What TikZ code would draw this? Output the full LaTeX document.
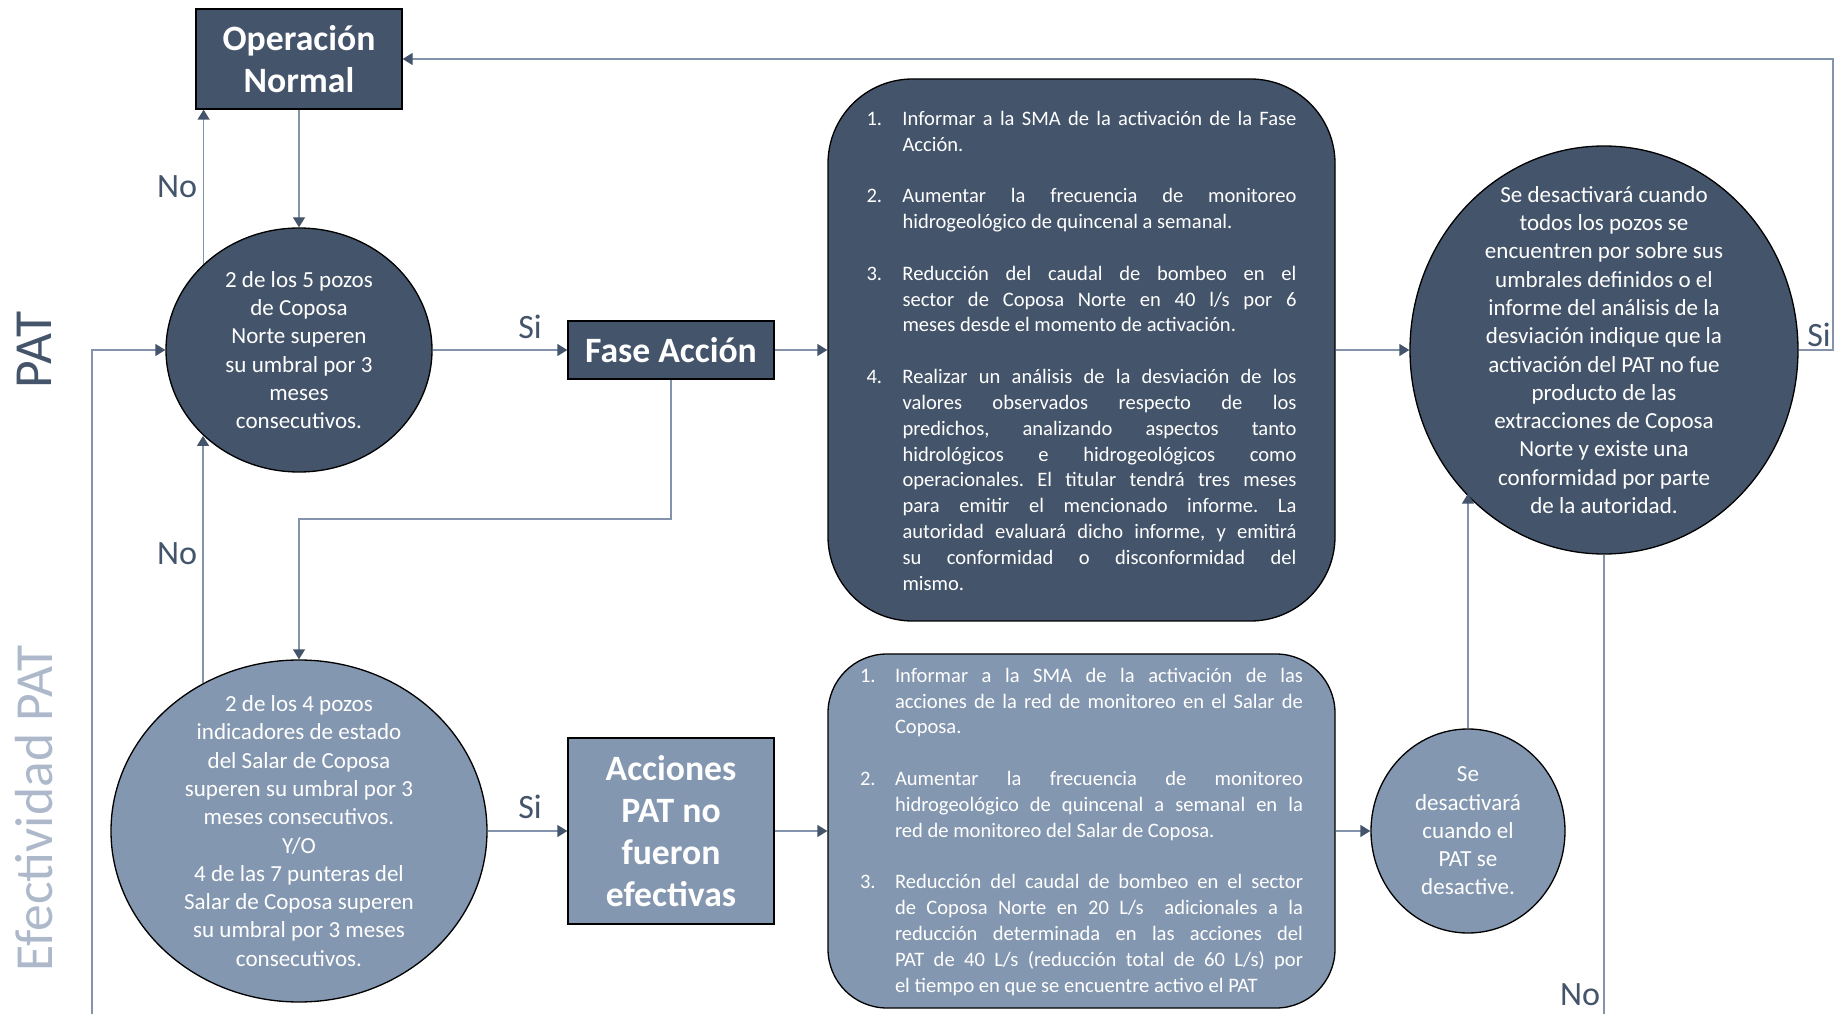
\documentclass[tikz,border=0pt]{standalone}
\usepackage{fontspec}
\setmainfont{Carlito}
\usetikzlibrary{arrows.meta,shapes.geometric}

\definecolor{pizarra}{HTML}{44546A}
\definecolor{pizarraclara}{HTML}{8497B0}
\definecolor{rotulo}{HTML}{ADB9CA}
\definecolor{conector}{HTML}{8393AB}

\hyphenpenalty=10000
\exhyphenpenalty=10000
\tolerance=10000
\frenchspacing

% numbered step with hanging indent
\newcommand{\paso}[3][0.72cm]{\par\noindent\hangindent=#1\hangafter=1\makebox[#1][l]{#2}#3\par}

\tikzset{
	cajaoscura/.style={rectangle, draw=black, line width=0.75pt, fill=pizarra, inner sep=0pt, text=white, align=center, font=\fontsize{20.3}{23.9}\selectfont\bfseries},
	cajaclara/.style={cajaoscura, fill=pizarraclara},
	elipseoscura/.style={ellipse, draw=black, line width=0.75pt, fill=pizarra, inner sep=0pt},
	elipseclara/.style={elipseoscura, fill=pizarraclara},
	textocirculo/.style={inner sep=0pt, text=white, align=center, font=\fontsize{13.1}{16.1}\selectfont},
	listaoscura/.style={rectangle, rounded corners=1.69cm, draw=black, line width=0.75pt, fill=pizarra, inner sep=0pt, text=white, align=justify, font=\fontsize{11.7}{14.7}\selectfont},
	listaclara/.style={listaoscura, rounded corners=1.18cm, fill=pizarraclara},
	etiqueta/.style={inner sep=0pt, text=pizarra, font=\fontsize{19.4}{23}\selectfont},
	rotuloizq/.style={inner sep=0pt, rotate=90, font=\fontsize{30.5}{36}\selectfont},
	linea/.style={draw=conector, line width=0.75pt},
	flecha/.style={linea, -{Triangle[length=0.2cm, width=0.24cm, color=pizarra]}}
}

\begin{document}
\begin{tikzpicture}
	\useasboundingbox (0,0) rectangle (36.82,20.28);

	%Rotulos de la izquierda
	\node[rotuloizq, text=pizarra] (rotPAT) at (0.68,13.28) {PAT};
	\node[rotuloizq, text=rotulo] (rotEfec) at (0.68,4.12) {Efectividad PAT};

	%Fila PAT
	\node[cajaoscura, minimum width=4.12cm, minimum height=2cm] (opn) at (5.98,19.10) {Operación\\Normal};

	\node[elipseoscura, minimum width=5.32cm, minimum height=4.88cm] (c1) at (5.98,13.28) {};
	\node[textocirculo] (c1txt) at (c1) {2 de los 5 pozos\\de Coposa\\Norte superen\\su umbral por 3\\meses\\consecutivos.};

	\node[cajaoscura, minimum width=4.12cm, minimum height=1.16cm] (fase) at (13.42,13.28) {Fase Acción};

	\node[listaoscura, minimum width=10.14cm, minimum height=10.84cm, text width=8.6cm] (b1) at (21.63,13.28) {%
		\paso{1.}{Informar a la SMA de la activación de la Fase\linebreak Acción.}
		\vspace{\baselineskip}
		\paso{2.}{Aumentar la frecuencia de monitoreo\linebreak hidrogeológico de quincenal a semanal.}
		\vspace{\baselineskip}
		\paso{3.}{Reducción del caudal de bombeo en el\linebreak sector de Coposa Norte en 40 l/s por 6\linebreak meses desde el momento de activación.}
		\vspace{\baselineskip}
		\paso{4.}{Realizar un análisis de la desviación de los\linebreak valores observados respecto de los\linebreak predichos, analizando aspectos tanto\linebreak hidrológicos e hidrogeológicos como\linebreak operacionales. El titular tendrá tres meses\linebreak para emitir el mencionado informe. La\linebreak autoridad evaluará dicho informe, y emitirá\linebreak su conformidad o disconformidad del\linebreak mismo.}
		\vspace*{0.2cm}};

	\node[elipseoscura, minimum width=7.76cm, minimum height=8.16cm] (c3) at (32.08,13.28) {};
	\node[textocirculo] (c3txt) at (c3) {Se desactivará cuando\\todos los pozos se\\encuentren por sobre sus\\umbrales definidos o el\\informe del análisis de la\\desviación indique que la\\activación del PAT no fue\\producto de las\\extracciones de Coposa\\Norte y existe una\\conformidad por parte\\de la autoridad.};

	%Fila Efectividad PAT
	\node[elipseclara, minimum width=7.52cm, minimum height=6.84cm] (c2) at (5.98,3.66) {};
	\node[textocirculo] (c2txt) at (c2) {2 de los 4 pozos\\indicadores de estado\\del Salar de Coposa\\superen su umbral por 3\\meses consecutivos.\\Y/O\\4 de las 7 punteras del\\Salar de Coposa superen\\su umbral por 3 meses\\consecutivos.};

	\node[cajaclara, minimum width=4.12cm, minimum height=3.72cm] (acc) at (13.42,3.66) {Acciones\\PAT no\\fueron\\efectivas};

	\node[listaclara, minimum width=10.14cm, minimum height=7.08cm, text width=8.86cm] (b2) at (21.63,3.66) {%
		\paso[0.70cm]{1.}{Informar a la SMA de la activación de las\linebreak acciones de la red de monitoreo en el Salar de\linebreak Coposa.}
		\vspace{\baselineskip}
		\paso[0.70cm]{2.}{Aumentar la frecuencia de monitoreo\linebreak hidrogeológico de quincenal a semanal en la\linebreak red de monitoreo del Salar de Coposa.}
		\vspace{\baselineskip}
		\paso[0.70cm]{3.}{Reducción del caudal de bombeo en el sector\linebreak de Coposa Norte en 20 L/s\ \ adicionales a la\linebreak reducción determinada en las acciones del\linebreak PAT de 40 L/s (reducción total de 60 L/s) por\linebreak el tiempo en que se encuentre activo el PAT}
		\vspace*{0.2cm}};

	\node[elipseclara, minimum width=3.88cm, minimum height=4.08cm] (c4) at (29.36,3.66) {};
	\node[textocirculo] (c4txt) at (c4) {Se\\desactivará\\cuando el\\PAT se\\desactive.};

	%Puntos de paso
	\coordinate (codo) at (13.42,9.90);
	\coordinate (derecha) at (36.66,19.10);
	\coordinate (abajoIzq) at (1.84,0);
	\coordinate (abajoDer) at (32.08,0);

	%Conectores
	\draw[flecha] (opn.south) -- (c1.north);
	\draw[flecha] (c1.138) -- (c1.138 |- opn.south);
	\draw[flecha] (c1.east) -- (fase.west);
	\draw[flecha] (fase.east) -- (b1.west);
	\draw[flecha] (b1.east) -- (c3.west);
	\draw[flecha] (c3.east) -| (derecha) -- (opn.east);
	\draw[flecha] (fase.south) -- (codo) -| (c2.north);
	\draw[flecha] (c2.123) -- (c2.123 |- c1.222);
	\draw[flecha] (c2.east) -- (acc.west);
	\draw[flecha] (acc.east) -- (b2.west);
	\draw[flecha] (b2.east) -- (c4.west);
	\draw[flecha] (c4.north) -- (c4.north |- c3.226);
	\draw[linea] (c3.south) -- (abajoDer);
	\draw[flecha] (abajoIzq) |- (c1.west);

	%Etiquetas Si / No
	\node[etiqueta] (no1) at (3.54,16.54) {No};
	\node[etiqueta] (no2) at (3.54,9.20) {No};
	\node[etiqueta] (si1) at (10.6,13.74) {Si};
	\node[etiqueta] (si2) at (10.6,4.14) {Si};
	\node[etiqueta] (si3) at (36.38,13.58) {Si};
	\node[etiqueta] (no3) at (31.6,0.38) {No};

\end{tikzpicture}
\end{document}
